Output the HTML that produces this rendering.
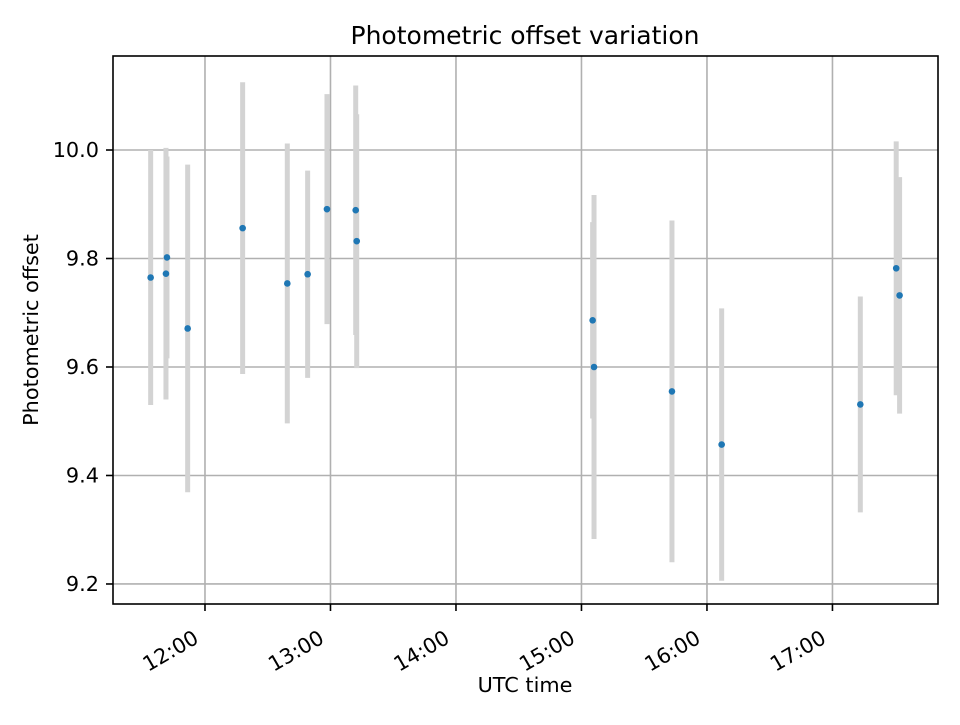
<!DOCTYPE html>
<html><head><meta charset="utf-8"><style>
body{margin:0;background:#fff;font-family:"Liberation Sans","DejaVu Sans",sans-serif}
svg text{font-family:"DejaVu Sans","Liberation Sans",sans-serif;fill:#000}
</style></head><body>
<svg id="chart" width="960" height="720" xmlns="http://www.w3.org/2000/svg">
<rect width="960" height="720" fill="#fff"/>
<g id="grid"></g>
<g id="errs"></g>
<g id="pts"></g>
<rect x="113" y="56" width="825" height="548" fill="none" stroke="#000" stroke-width="1.6"/>
<g id="ticks"></g>
<text x="525" y="44" font-size="25" text-anchor="middle">Photometric offset variation</text>
<text x="525" y="692" font-size="20.8" text-anchor="middle">UTC time</text>
<text transform="translate(38,330) rotate(-90)" font-size="20.8" text-anchor="middle">Photometric offset</text>
</svg>
<script>
const times=[11.567,11.689,11.697,11.862,12.300,12.656,12.818,12.972,13.201,13.209,15.089,15.100,15.721,16.117,17.222,17.508,17.535];
const values=[9.765,9.772,9.802,9.671,9.856,9.754,9.771,9.891,9.889,9.832,9.686,9.600,9.555,9.457,9.531,9.782,9.732];
const errors=[0.235,0.232,0.186,0.302,0.269,0.258,0.191,0.212,0.230,0.234,0.181,0.317,0.315,0.251,0.199,0.234,0.218];
const yTicks=[9.2,9.4,9.6,9.8,10.0];
const xTicks=[12,13,14,15,16,17];
const xTickLabels=["12:00","13:00","14:00","15:00","16:00","17:00"];
const L=113,R=938,T=56,B=604;
const x0=11.267,x1=17.841,y0=9.1631,y1=10.1733;
const sx=t=>L+(t-x0)/(x1-x0)*(R-L);
const sy=v=>B-(v-y0)/(y1-y0)*(B-T);
const NS="http://www.w3.org/2000/svg";
function mk(tag,attrs,parent){const e=document.createElementNS(NS,tag);for(const k in attrs)e.setAttribute(k,attrs[k]);parent.appendChild(e);return e;}
const grid=document.getElementById('grid'),ticks=document.getElementById('ticks'),errs=document.getElementById('errs'),pts=document.getElementById('pts');
yTicks.forEach(v=>{const y=sy(v);
 const g=mk('line',{x1:L,x2:R,y1:y,y2:y,stroke:'#b0b0b0','stroke-width':1.6},grid);
 
 
 const t=mk('line',{x1:L-7,x2:L,y1:y,y2:y,stroke:'#000','stroke-width':1.6},ticks);
 
 
 const tx=mk('text',{x:L-14,y:y+7,'font-size':20.8,'text-anchor':'end'},ticks);
 tx.textContent=v.toFixed(1);
 
 
});
xTicks.forEach((h,i)=>{const x=sx(h);
 const g=mk('line',{x1:x,x2:x,y1:T,y2:B,stroke:'#b0b0b0','stroke-width':1.6},grid);
 
 
 const t=mk('line',{x1:x,x2:x,y1:B,y2:B+7,stroke:'#000','stroke-width':1.6},ticks);
 
 
 const tx=mk('text',{transform:`translate(${x-5},${B+38}) rotate(-30)`,'font-size':20.8,'text-anchor':'end'},ticks);
 tx.textContent=xTickLabels[i];
 
 
});
times.forEach((t,i)=>{const x=sx(t);
 const e=mk('line',{x1:x,x2:x,y1:sy(values[i]+errors[i]),y2:sy(values[i]-errors[i]),stroke:'#d3d3d3','stroke-width':5},errs);
 
 
 const c=mk('circle',{cx:x,cy:sy(values[i]),r:3.3,fill:'#1f77b4'},pts);
 
 
});
</script>
</body></html>
